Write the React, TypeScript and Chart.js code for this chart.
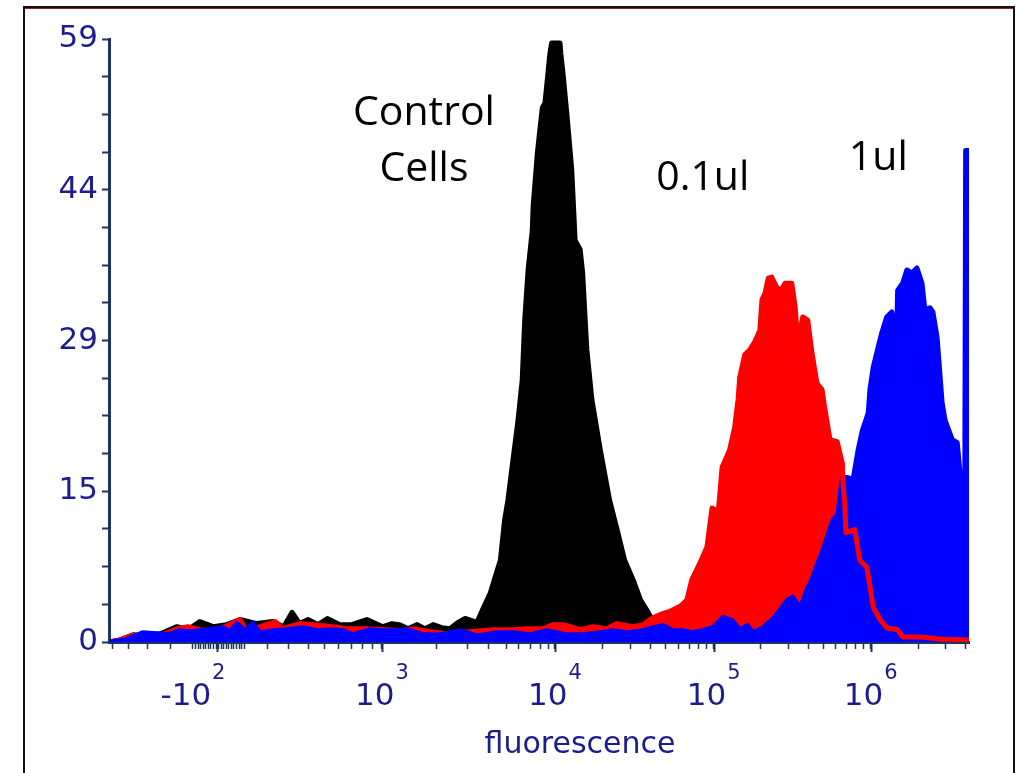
import { useEffect, useRef } from 'react';
import { Chart, registerables } from 'chart.js';

Chart.register(...registerables);

// Histogram data: [channel (0-1024, biexponential display), event count]
const controlCells: [number, number][] = [
  [0, 0], [13, 0.2], [29, 0.7], [43, 0.6], [61, 0.8], [81, 1.5], [94, 1.2], [108, 2.0], [124, 1.5], [140, 1.7],
  [156, 2.2], [176, 1.8], [195, 2.0], [208, 1.5], [218, 2.9], [227, 1.8], [237, 2.2], [249, 1.7], [260, 2.3], [275, 1.7],
  [289, 1.7], [307, 2.2], [326, 1.5], [337, 1.8], [346, 1.7], [356, 1.3], [367, 1.7], [376, 1.3], [386, 1.7], [396, 1.4],
  [406, 1.3], [415, 1.9], [424, 2.3], [432, 2.1], [438, 1.9], [445, 3.2], [454, 4.8], [460, 6.4], [466, 8.0], [471, 11.9],
  [475, 13.9], [481, 17.8], [487, 21.7], [492, 25.6], [495, 31.5], [499, 36.4], [504, 40.3], [505, 42.6], [510, 47.8],
  [513, 50.1], [516, 52.3], [519, 52.7], [521, 54.3], [525, 57.6], [527, 58.6], [537, 58.6], [538, 57.6], [541, 55.3],
  [545, 51.8], [549, 48.1], [551, 46.2], [555, 39.3], [561, 38.4], [564, 36.1], [567, 31.5], [569, 28.6], [575, 23.7],
  [585, 18.8], [596, 13.9], [605, 11.0], [614, 8.0], [624, 6.1], [633, 4.1], [642, 2.9], [650, 1.7], [662, 1.0],
  [680, 0.6], [704, 0.4], [727, 0.3], [775, 0.5], [799, 0.2], [823, 0.1], [1024, 0],
];

const dose01ul: [number, number][] = [
  [0, 0], [13, 0.2], [29, 0.7], [43, 0.5], [61, 0.6], [81, 1.3], [94, 1.5], [108, 1.2], [124, 1.1], [138, 1.5],
  [156, 2.2], [164, 1.0], [180, 1.5], [198, 2.0], [207, 1.3], [227, 1.8], [243, 1.7], [267, 1.5], [283, 1.3], [307, 1.3],
  [331, 1.2], [347, 1.1], [362, 1.3], [382, 1.0], [402, 0.8], [430, 1.0], [457, 1.2], [481, 1.2], [498, 1.3], [517, 1.3],
  [529, 1.7], [541, 1.7], [561, 1.2], [576, 1.5], [593, 1.3], [605, 1.8], [624, 1.5], [636, 1.7], [648, 2.4], [660, 2.8],
  [668, 3.0], [680, 3.5], [688, 4.1], [694, 6.1], [704, 7.8], [712, 9.3], [718, 13.1], [723, 12.9], [725, 12.2],
  [730, 17.1], [739, 18.8], [745, 21.0], [749, 23.7], [751, 25.9], [757, 28.1], [763, 28.6], [769, 29.4], [775, 30.5],
  [777.5, 33.5], [781, 34.1], [785, 35.6], [789, 35.7], [795, 34.7], [800, 34.4], [805, 35.1], [813, 35.1], [817, 32.8],
  [820, 29.3], [826, 31.8], [832, 31.5], [837, 28.3], [843, 25.3], [849, 24.7], [852, 23.0], [858.5, 19.8], [867, 19.6],
  [873, 17.5], [874, 15.6], [876, 13.6], [877.5, 10.7], [888, 11.0], [894, 8.0], [902.5, 7.3], [910, 3.4], [918, 2.2],
  [926, 1.4], [939, 1.2], [945, 0.5], [966, 0.5], [989, 0.3], [1024, 0.2],
];

const dose1ul: [number, number][] = [
  [0, 0], [19, 0.2], [40, 0.9], [57, 0.8], [69, 0.7], [84, 1.1], [96, 1.0], [108, 1.1], [120, 1.2], [136, 1.4],
  [144, 1.0], [152, 1.8], [162, 1.1], [171, 1.8], [180, 0.9], [195, 1.1], [212, 1.2], [231, 1.4], [248, 1.1], [263, 1.2],
  [279, 1.1], [290, 0.7], [311, 1.2], [326, 1.1], [343, 1.1], [355, 1.2], [374, 0.7], [394, 0.7], [418, 1.1], [438, 0.6],
  [462, 0.9], [481, 0.9], [501, 0.7], [521, 1.1], [545, 0.7], [564, 0.7], [585, 0.9], [600, 1.1], [617, 0.9], [636, 1.1],
  [648, 1.4], [660, 1.6], [671, 1.1], [683, 1.1], [695, 0.9], [707, 1.1], [719, 1.4], [731, 2.4], [742, 2.1], [751, 1.2],
  [760, 1.6], [767, 0.9], [779, 1.4], [791, 2.3], [799, 3.1], [808, 4.1], [814, 4.4], [823, 3.3], [831, 5.1], [837, 6.1],
  [843, 7.5], [849, 8.7], [855, 10.2], [862, 11.9], [868, 12.5], [873, 16.0], [879, 16.1], [886, 15.9], [892, 18.8],
  [897, 20.7], [904, 22.4], [906, 24.7], [910, 26.9], [916, 28.9], [920, 30.2], [926, 31.8], [932, 32.3], [935, 31.0],
  [938, 30.5], [939, 34.4], [945, 35.1], [950, 36.4], [956, 36.1], [962, 36.6], [968, 35.1], [971.5, 32.5], [977.5, 32.7],
  [981, 32.3], [986, 29.8], [992, 23.4], [995.5, 21.7], [1004, 19.8], [1010, 19.5], [1013, 16.8], [1017, 15.9],
  [1019, 15.4], [1020, 48.1], [1022.5, 48.1], [1022.7, 0],
];

// Axis ticks
const xDecadeChannels = [325, 531, 720, 907, 1094];
const xLabelChannels = [100, 325, 531, 720, 907];
const xLabelBases = ['-10', '10', '10', '10', '10'];
const xLabelExps = ['2', '3', '4', '5', '6'];
const xLongTickChannels = [129, 325, 531, 720, 907];
const xLowTickChannels = [4, 23, 46, 73, 189, 214, 237, 256, 273, 289, 302, 314, 390, 427, 452, 473, 488, 502, 514, 523];
const xLinearTickRange = [100, 161];
const yMax = 59;
const yTickLabels = ['0', '15', '29', '44', '59'];

// Annotations
const annotationTexts = ['Control', 'Cells', '0.1ul', '1ul'];
const annotationX = [375, 375, 707, 916];
const annotationY = [50.6, 45.1, 44.2, 46.2];

const TEXT_NAVY = '#1c1c8c';
const AXIS_NAVY = '#1e3560';

function buildXTicks(): number[] {
  const t: number[] = [...xLowTickChannels];
  for (let i = 0; i <= 20; i++) t.push(xLinearTickRange[0] + ((xLinearTickRange[1] - xLinearTickRange[0]) * i) / 20);
  for (let d = 0; d < xDecadeChannels.length - 1; d++) {
    const a = xDecadeChannels[d];
    const b = xDecadeChannels[d + 1];
    t.push(a);
    if (d >= 1) {
      for (let k = 2; k <= 9; k++) {
        const v = a + Math.log10(k) * (b - a);
        if (v <= 1024) t.push(v);
      }
    }
  }
  return t.sort((p, q) => p - q);
}

const labelPlugin = {
  id: 'fcsLabels',
  afterDraw(chart: any) {
    const ctx = chart.ctx as CanvasRenderingContext2D;
    const xs = chart.scales.x;
    const ys = chart.scales.y;
    const bottom = chart.chartArea.bottom;
    ctx.save();
    // long decade ticks
    ctx.strokeStyle = AXIS_NAVY;
    ctx.lineWidth = 2;
    xLongTickChannels.forEach((c) => {
      const px = Math.round(xs.getPixelForValue(c)) + 0.5;
      ctx.beginPath();
      ctx.moveTo(px, bottom);
      ctx.lineTo(px, bottom + 10);
      ctx.stroke();
    });
    // tick labels with superscripts
    ctx.fillStyle = TEXT_NAVY;
    ctx.textBaseline = 'alphabetic';
    ctx.textAlign = 'left';
    xLabelChannels.forEach((c, i) => {
      const px = xs.getPixelForValue(c);
      ctx.font = '31px "DejaVu Sans"';
      const wb = ctx.measureText(xLabelBases[i]).width;
      ctx.font = '21px "DejaVu Sans"';
      const we = ctx.measureText(xLabelExps[i]).width;
      const start = px - (wb + 1 + we) / 2;
      ctx.font = '31px "DejaVu Sans"';
      ctx.fillText(xLabelBases[i], start, 705);
      ctx.font = '21px "DejaVu Sans"';
      ctx.fillText(xLabelExps[i], start + wb + 1, 679);
    });
    // axis title
    ctx.font = '30px "DejaVu Sans"';
    ctx.textAlign = 'center';
    ctx.fillText('fluorescence', 580, 753);
    // annotations
    ctx.fillStyle = '#000000';
    ctx.font = '41px "Open Sans"';
    annotationTexts.forEach((t, i) => {
      ctx.fillText(t, xs.getPixelForValue(annotationX[i]), ys.getPixelForValue(annotationY[i]));
    });
    ctx.restore();
  },
};

const toPoints = (arr: [number, number][]) => arr.map(([x, y]) => ({ x, y }));

export default function App() {
  const ref = useRef<HTMLCanvasElement>(null);
  useEffect(() => {
    const xTicks = buildXTicks();
    const yTicks = Array.from({ length: 17 }, (_, i) => (yMax * i) / 16);
    const clip = { left: 0, top: false, right: 0, bottom: 0 } as any;
    const chart = new Chart(ref.current!, {
      type: 'line',
      data: {
        datasets: [
          {
            label: '0.1ul outline',
            data: toPoints(dose01ul.filter(([x]) => x >= 873)),
            borderColor: '#ff0000',
            fill: false,
            order: 0,
            clip,
          },
          {
            label: '1ul',
            data: toPoints(dose1ul),
            borderColor: '#0000ff',
            backgroundColor: '#0000ff',
            fill: 'origin',
            order: 1,
            clip,
          },
          {
            label: '0.1ul',
            data: toPoints(dose01ul),
            borderColor: '#ff0000',
            backgroundColor: '#ff0000',
            fill: 'origin',
            order: 2,
            clip,
          },
          {
            label: 'Control Cells',
            data: toPoints(controlCells),
            borderColor: '#000000',
            backgroundColor: '#000000',
            fill: 'origin',
            order: 3,
            clip,
          },
        ],
      },
      options: {
        responsive: false,
        animation: false,
        events: [],
        elements: {
          point: { radius: 0 },
          line: { tension: 0, borderWidth: 5, borderJoinStyle: 'round', borderCapStyle: 'round' },
        },
        layout: { padding: { top: 39, right: 49, left: 0, bottom: 0 } },
        plugins: { legend: { display: false }, tooltip: { enabled: false } },
        scales: {
          x: {
            type: 'linear',
            min: 0,
            max: 1024,
            z: 1,
            afterBuildTicks: (s: any) => {
              s.ticks = xTicks.map((v) => ({ value: v }));
            },
            afterFit: (s: any) => {
              s.height = 131;
            },
            ticks: { display: false },
            grid: { drawOnChartArea: false, drawTicks: true, tickLength: 7, tickColor: AXIS_NAVY, tickWidth: 1.5 },
            border: { display: true, color: AXIS_NAVY, width: 3 },
          },
          y: {
            type: 'linear',
            min: 0,
            max: yMax,
            z: 1,
            afterBuildTicks: (s: any) => {
              s.ticks = yTicks.map((v) => ({ value: v }));
            },
            afterFit: (s: any) => {
              s.width = 109;
            },
            ticks: {
              autoSkip: false,
              padding: 4,
              color: TEXT_NAVY,
              font: { family: 'DejaVu Sans', size: 31 },
              callback: (_v: any, i: number) => (i % 4 === 0 ? yTickLabels[i / 4] : ''),
            },
            grid: { drawOnChartArea: false, drawTicks: true, tickLength: 7, tickColor: AXIS_NAVY, tickWidth: 2 },
            border: { display: true, color: AXIS_NAVY, width: 3 },
          },
        },
      },
      plugins: [labelPlugin],
    } as any);
    return () => chart.destroy();
  }, []);

  return (
    <div style={{ position: 'absolute', left: 0, top: 0, width: 1018, height: 773, background: '#ffffff', overflow: 'hidden' }}>
      <div
        style={{
          position: 'absolute',
          left: 23,
          top: 6,
          width: 992,
          height: 767,
          boxSizing: 'border-box',
          borderLeft: '2px solid #111',
          borderRight: '2px solid #111',
          borderTop: '2px solid #111',
          boxShadow: 'inset 0 1px 0 #9a2020',
        }}
      />
      <canvas ref={ref} width={1018} height={773} style={{ position: 'absolute', left: 0, top: 0 }} />
    </div>
  );
}
